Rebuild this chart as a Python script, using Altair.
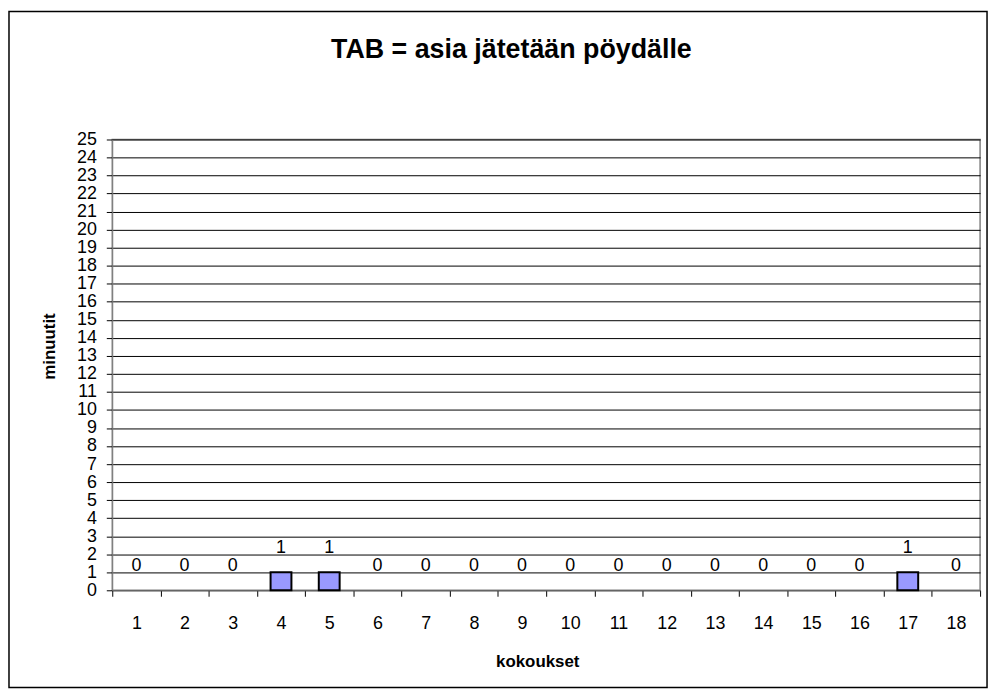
import altair as alt
import pandas as pd

meetings = [str(i) for i in range(1, 19)]
minutes = [0, 0, 0, 1, 1, 0, 0, 0, 0, 0, 0, 0, 0, 0, 0, 0, 1, 0]

title_text = "TAB = asia jätetään pöydälle"
x_title = "kokoukset"
y_title = "minuutit"
y_ticks = list(range(0, 26))

df = pd.DataFrame({"kokous": meetings, "minuutit": minutes})

FONT = "Liberation Sans"
W, H = 874, 454

x_enc = alt.X(
    "kokous:O",
    sort=meetings,
    title=x_title,
    scale=alt.Scale(paddingInner=0, paddingOuter=0),
    axis=alt.Axis(
        labelAngle=0,
        tickBand="extent",
        tickSize=6,
        tickColor="#000000",
        domainColor="#808080",
        labelFontSize=18,
        labelPadding=18,
        titleFontSize=17,
        titleFontWeight="bold",
        titlePadding=22,
        titleX=428,
        labelFont=FONT,
        titleFont=FONT,
        labelColor="#000000",
        titleColor="#000000",
        grid=False,
    ),
)

y_scale = alt.Scale(domain=[0, 25], nice=False)

y_enc = alt.Y(
    "minuutit:Q",
    scale=y_scale,
    title=y_title,
    axis=alt.Axis(
        values=y_ticks,
        grid=True,
        gridColor="#000000",
        gridWidth=1,
        tickSize=6,
        tickColor="#000000",
        domainColor="#808080",
        labelFontSize=18,
        labelPadding=10,
        labelOverlap=False,
        labelFlush=False,
        titleFontSize=17,
        titleFontWeight="bold",
        titlePadding=18,
        titleY=208,
        labelFont=FONT,
        titleFont=FONT,
        labelColor="#000000",
        titleColor="#000000",
    ),
)

base = alt.Chart(df)

bars = base.mark_bar(
    size=21, color="#9999FF", stroke="#000000", strokeWidth=2
).encode(x=x_enc, y=y_enc).transform_filter("datum.minuutit > 0")

labels = base.mark_text(
    fontSize=18, font=FONT, color="#000000", baseline="alphabetic", dy=-19
).encode(
    x=x_enc,
    y=y_enc,
    text=alt.Text("minuutit:Q"),
)

one = pd.DataFrame({"t": [title_text]})

frame = alt.Chart(one).mark_rect(
    fill=None, stroke="#000000", strokeWidth=1.5, clip=False
).encode(
    x=alt.value(-104),
    x2=alt.value(881),
    y=alt.value(-129),
    y2=alt.value(552),
)

title = alt.Chart(one).mark_text(
    font=FONT, fontSize=27, fontWeight="bold", color="#000000",
    baseline="alphabetic", align="center", clip=False
).encode(
    x=alt.value(402),
    y=alt.value(-82),
    text="t:N",
)

chart = alt.layer(frame, bars, labels, title).properties(
    width=W,
    height=H,
    autosize=alt.AutoSizeParams(type="none"),
    padding={"left": 105, "top": 130, "right": 12, "bottom": 100},
    background="#ffffff",
).configure_view(stroke="#808080", strokeWidth=1.5)

chart.save("out.html", embed_options={"renderer": "svg", "actions": False})
